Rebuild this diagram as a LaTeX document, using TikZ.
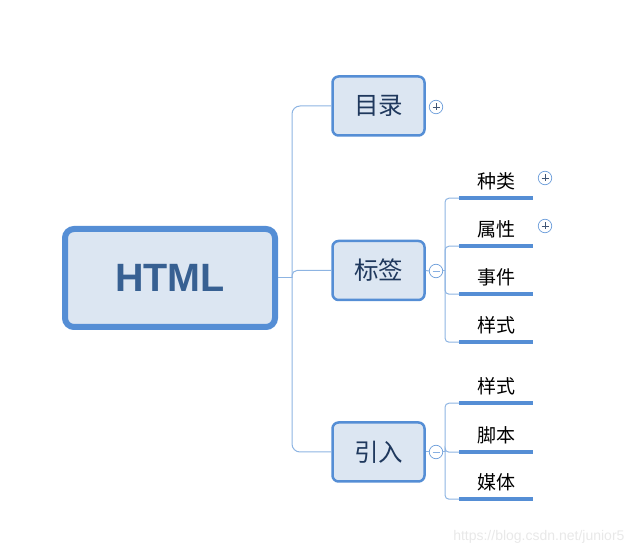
\documentclass[tikz,border=0pt]{standalone}
\usepackage{fontspec}
\setmainfont{Liberation Sans}
\newfontfamily\cjk{Noto Sans CJK SC}
\usetikzlibrary{positioning, calc}
\definecolor{mapblue}{RGB}{85,142,213}
\definecolor{mapfill}{RGB}{220,230,242}
\definecolor{linkblue}{RGB}{141,180,226}
\definecolor{textnavy}{RGB}{31,56,93}
\definecolor{rootblue}{RGB}{55,96,146}
\definecolor{marklight}{RGB}{232,232,232}

\tikzset{
  root/.style={draw=mapblue, line width=6pt, fill=mapfill, rounded corners=9pt,
    minimum width=210pt, minimum height=98pt, inner sep=0pt,
    font=\bfseries\fontsize{39.5}{39.5}\selectfont, text=rootblue},
  topic/.style={draw=mapblue, line width=2.5pt, fill=mapfill, rounded corners=6pt,
    minimum width=92pt, minimum height=59pt, inner sep=0pt,
    font=\cjk\fontsize{24.5}{24.5}\selectfont, text=textnavy},
  leaf/.style={minimum width=74pt, minimum height=34pt, inner sep=0pt,
    font=\cjk\fontsize{19}{19}\selectfont},
  bar/.style={draw=mapblue, line width=4pt},
  link/.style={draw=linkblue, line width=1pt},
  toggle/.style={circle, draw=mapblue!85, fill=white, line width=0.7pt,
    minimum size=13.5pt, inner sep=0pt},
  plusmark/.style={toggle, path picture={
    \draw[line width=0.8pt, textnavy!85]
      (path picture bounding box.center) ++(-3.5,0) -- ++(7,0)
      (path picture bounding box.center) ++(0,-3.5) -- ++(0,7);}},
  minusmark/.style={toggle, path picture={
    \draw[line width=0.8pt, mapblue!70]
      (path picture bounding box.center) ++(-3.5,0) -- ++(7,0);}}
}

\begin{document}
\begin{tikzpicture}[x=1pt, y=-1pt]
  \useasboundingbox (0,0) rectangle (638,553);

  % Central topic and main branches
  \node[root] (html) at (170,278) {HTML};
  \node[topic] (mulu) at (378.5,106) {目录};
  \node[topic] (biaoqian) at (378.5,270.5) {标签};
  \node[topic] (yinru) at (378.5,452) {引入};

  % Trunk
  \coordinate (trunk) at (292,278);
  \draw[link] (html.east) -- (trunk);
  \draw[link, rounded corners=8pt] (trunk) |- (mulu.west);
  \draw[link, rounded corners=5pt] (trunk) |- (biaoqian.west);
  \draw[link, rounded corners=8pt] (trunk) |- (yinru.west);

  % Collapse / expand marks
  \node[plusmark] (mulutoggle) at (436,107) {};
  \node[minusmark] (biaoqiantoggle) at (436,271) {};
  \node[minusmark] (yinrutoggle) at (436,452) {};

  % Sub-topics of the tags branch
  \node[leaf] (zhonglei) at (496,181) {种类};
  \node[leaf] (shuxing) at (496,229) {属性};
  \node[leaf] (shijian) at (496,277) {事件};
  \node[leaf] (yangshiA) at (496,325) {样式};
  \foreach \n in {zhonglei, shuxing, shijian, yangshiA}
    \draw[bar] (\n.south west) -- (\n.south east);
  \coordinate (forkB) at (445,271);
  \draw[link] (biaoqian.east) -- (biaoqiantoggle.west);
  \draw[link] (biaoqiantoggle.east) -- (forkB);
  \foreach \n in {zhonglei, shuxing, shijian, yangshiA}
    \draw[link, rounded corners=4pt] (forkB) |- (\n.south west);
  \node[plusmark] (zhongleitoggle) at (545,178) {};
  \node[plusmark] (shuxingtoggle) at (545,226) {};

  % Sub-topics of the import branch
  \node[leaf] (yangshiB) at (496,386) {样式};
  \node[leaf] (jiaoben) at (496,435) {脚本};
  \node[leaf] (meiti) at (496,482) {媒体};
  \foreach \n in {yangshiB, jiaoben, meiti}
    \draw[bar] (\n.south west) -- (\n.south east);
  \coordinate (forkC) at (445,452);
  \draw[link] (yinru.east) -- (yinrutoggle.west);
  \draw[link] (yinrutoggle.east) -- (forkC);
  \foreach \n in {yangshiB, jiaoben, meiti}
    \draw[link, rounded corners=4pt] (forkC) |- (\n.south west);

  % Watermark
  \node[anchor=east, text=marklight, font=\fontsize{14}{14}\selectfont]
    (mark) at (628,537) {https://blog.csdn.net/junior5};
\end{tikzpicture}
\end{document}
